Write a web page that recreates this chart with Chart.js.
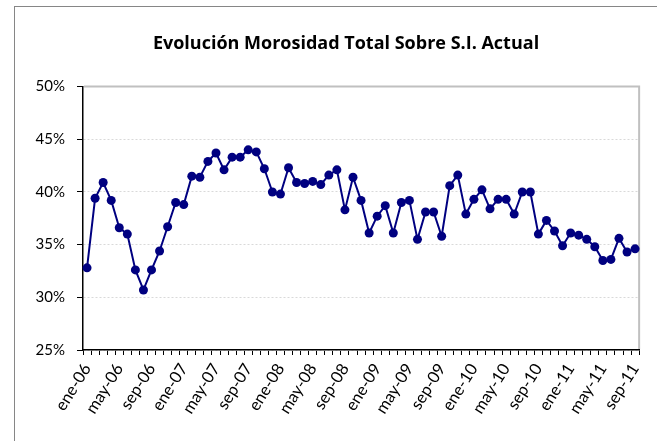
<!DOCTYPE html>
<html>
<head>
<meta charset="utf-8">
<script src="https://cdn.jsdelivr.net/npm/chart.js@4"></script>
<style>
  html, body { margin: 0; padding: 0; background: #fff; }
  #wrap { width: 657px; height: 441px; }
</style>
</head>
<body>
<div id="wrap"><canvas id="myChart" width="657" height="441"></canvas></div>
<script>
// monthly labels ene-06 .. sep-11
const months = ["ene", "feb", "mar", "abr", "may", "jun", "jul", "ago", "sep", "oct", "nov", "dic"];
const years = ["06", "07", "08", "09", "10", "11"];
const labels = [];
years.forEach(function (y) {
  months.forEach(function (m) {
    labels.push(m + "-" + y);
  });
});
labels.length = 69;

// morosidad (%)
const morosidad = [
  32.8, 39.4, 40.9, 39.2, 36.6, 36.0, 32.6, 30.7, 32.6, 34.4, 36.7, 39.0,
  38.8, 41.5, 41.4, 42.9, 43.7, 42.1, 43.3, 43.3, 44.0, 43.8, 42.2, 40.0,
  39.8, 42.3, 40.9, 40.8, 41.0, 40.7, 41.6, 42.1, 38.3, 41.4, 39.2, 36.1,
  37.7, 38.7, 36.1, 39.0, 39.2, 35.5, 38.1, 38.1, 35.8, 40.6, 41.6, 37.9,
  39.3, 40.2, 38.4, 39.3, 39.3, 37.9, 40.0, 40.0, 36.0, 37.3, 36.3, 34.9,
  36.1, 35.9, 35.5, 34.8, 33.5, 33.6, 35.6, 34.3, 34.6
];

const yTicks = [25, 30, 35, 40, 45, 50];

const frame = {
  id: "frame",
  afterLayout(chart) {
    // centre the title over the plot, not the whole canvas
    if (chart.titleBlock) {
      chart.titleBlock.left = 50;
    }
  },
  beforeDraw(chart) {
    const ctx = chart.ctx;
    ctx.save();
    ctx.strokeStyle = "#868686";
    ctx.lineWidth = 1;
    ctx.strokeRect(14.5, 6.5, 700, 500);
    ctx.restore();
  },
  beforeDatasetsDraw(chart) {
    const a = chart.chartArea;
    const ctx = chart.ctx;
    ctx.save();
    ctx.strokeStyle = "#c0c0c0";
    ctx.lineWidth = 2;
    ctx.beginPath();
    ctx.moveTo(a.left + 1, a.top);
    ctx.lineTo(a.right, a.top);
    ctx.lineTo(a.right, a.bottom - 1);
    ctx.stroke();
    ctx.restore();
  }
};

Chart.defaults.font.family = "Lato, 'Noto Sans', sans-serif";
Chart.defaults.color = "#000";

new Chart("myChart", {
  type: "line",
  data: {
    labels: labels,
    datasets: [
      {
        data: morosidad,
        borderColor: "#000080",
        backgroundColor: "#000080",
        borderWidth: 2,
        pointRadius: 4.5,
        pointHoverRadius: 4.5,
        pointBorderWidth: 0,
        tension: 0
      }
    ]
  },
  options: {
    responsive: false,
    animation: false,
    layout: { padding: { top: 0, right: 15, bottom: 0, left: 0 } },
    plugins: {
      legend: { display: false },
      tooltip: { enabled: false },
      title: {
        display: true,
        text: "Evolución Morosidad Total Sobre S.I. Actual",
        font: { family: "'Open Sans', Lato, sans-serif", size: 18, weight: "bold" },
        color: "#000",
        padding: { top: 33, bottom: 32 }
      }
    },
    scales: {
      x: {
        offset: true,
        afterFit: function (s) { s.height = 91; },
        grid: {
          offset: true,
          drawOnChartArea: false,
          tickLength: 5,
          tickColor: "#000"
        },
        border: { color: "#000", width: 1.5 },
        ticks: {
          autoSkip: false,
          maxRotation: 58,
          minRotation: 58,
          padding: 5,
          font: { size: 16.5 },
          callback: function (v, i) { return i % 4 === 0 ? labels[i] : ""; }
        }
      },
      y: {
        min: 25,
        max: 50,
        afterFit: function (s) { s.width = 83; },
        afterBuildTicks: function (s) { s.ticks = yTicks.map(function (v) { return { value: v }; }); },
        grid: {
          color: "#d9d9d9",
          tickLength: 6,
          tickColor: "#000"
        },
        border: { color: "#000", width: 1.5, dash: [2, 2] },
        ticks: {
          padding: 12,
          font: { size: 15 },
          callback: function (v) { return v + "%"; }
        }
      }
    }
  },
  plugins: [frame]
});
</script>
</body>
</html>
